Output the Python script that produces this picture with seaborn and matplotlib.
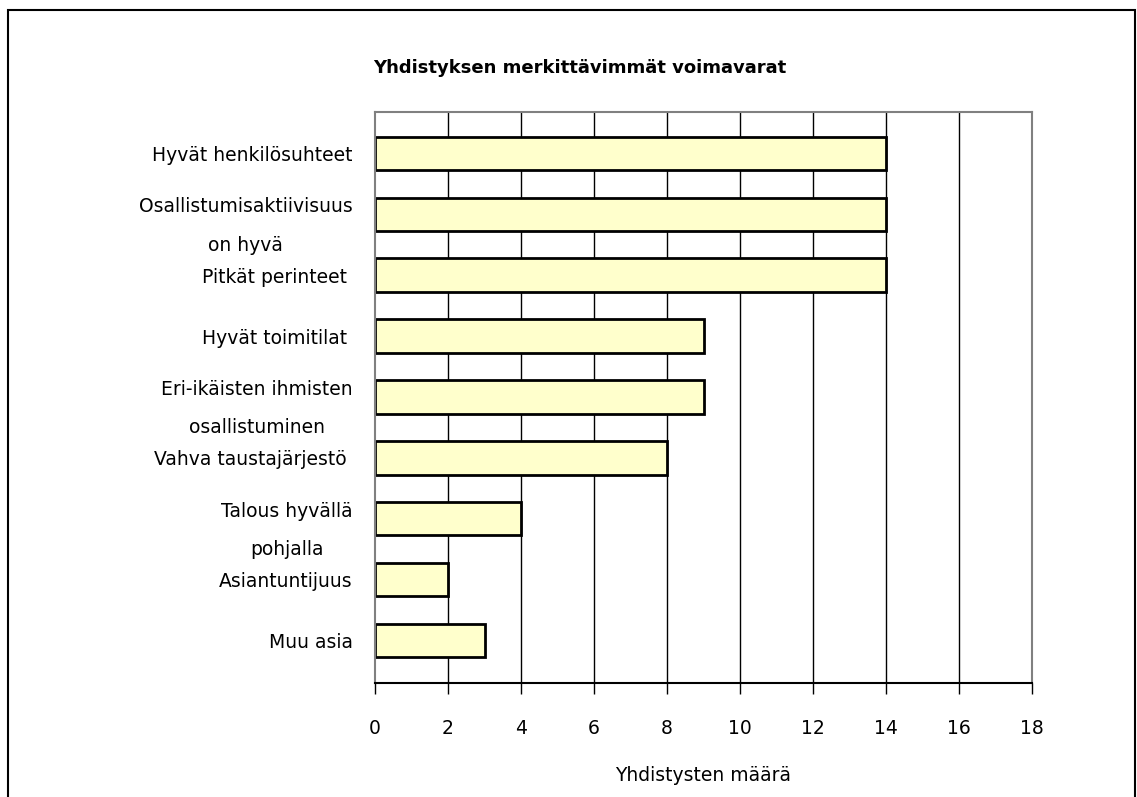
import matplotlib
matplotlib.use('Agg')
import matplotlib.pyplot as plt
import seaborn as sns
import pandas as pd
from matplotlib.patches import Rectangle

# Data
categories = [
    'Hyvät henkilösuhteet',
    'Osallistumisaktiivisuus\non hyvä',
    'Pitkät perinteet ',
    'Hyvät toimitilat ',
    'Eri-ikäisten ihmisten\nosallistuminen',
    'Vahva taustajärjestö ',
    'Talous hyvällä\npohjalla',
    'Asiantuntijuus',
    'Muu asia',
]
counts = [14, 14, 14, 9, 9, 8, 4, 2, 3]
x_ticks = list(range(0, 19, 2))

title = 'Yhdistyksen merkittävimmät voimavarat'
x_label = 'Yhdistysten määrä'

df = pd.DataFrame({'asia': categories, 'maara': counts})

sns.set_style('white')
plt.rcParams['font.family'] = ['DejaVu Sans']
plt.rcParams['text.color'] = 'black'
plt.rcParams['axes.labelcolor'] = 'black'
plt.rcParams['xtick.color'] = 'black'
plt.rcParams['ytick.color'] = 'black'

fig = plt.figure(figsize=(11.37, 7.97), dpi=100)
ax = fig.add_axes([375 / 1137, 1 - 683 / 797, (1032 - 375) / 1137, (683 - 112) / 797])

# vertical grid lines behind the bars
for v in x_ticks[1:-1]:
    ax.axvline(v, color='black', lw=1, zorder=0)

sns.barplot(data=df, x='maara', y='asia', orient='h', color='#FFFFCC',
            edgecolor='black', linewidth=2, width=0.55, saturation=1, ax=ax, zorder=2)

ax.set_xlim(0, 18)
ax.set_ylim(8.7, -0.68)
ax.set_xticks(x_ticks)
ax.set_xticklabels([str(t) for t in x_ticks], fontsize=13.5)
ax.tick_params(axis='x', bottom=True, direction='out', length=8, width=1,
               color='black', labelcolor='black', pad=18)
ax.tick_params(axis='y', left=False, length=0, pad=16, labelcolor='black')
for lab in ax.get_yticklabels():
    lab.set_fontsize(13.5)
    lab.set_multialignment('center')
    lab.set_linespacing(2.3)

ax.set_xlabel(x_label, fontsize=13.5, labelpad=20, color='black')
ax.set_ylabel('')

for side in ['top', 'right', 'left']:
    ax.spines[side].set_color('#808080')
    ax.spines[side].set_linewidth(1.5)
    ax.spines[side].set_visible(True)
ax.spines['bottom'].set_color('black')
ax.spines['bottom'].set_linewidth(1.5)
ax.spines['bottom'].set_visible(True)

fig.text(580 / 1137, 1 - 68 / 797, title, ha='center', va='center',
         fontsize=13, fontweight='bold', color='black')

# outer border of the chart
fig.patches.append(Rectangle((8 / 1137, -0.02), (1135 - 8) / 1137, 1.02 - 10 / 797,
                             transform=fig.transFigure, fill=False,
                             edgecolor='black', lw=1.5))

fig.savefig('out.png', dpi=100)
